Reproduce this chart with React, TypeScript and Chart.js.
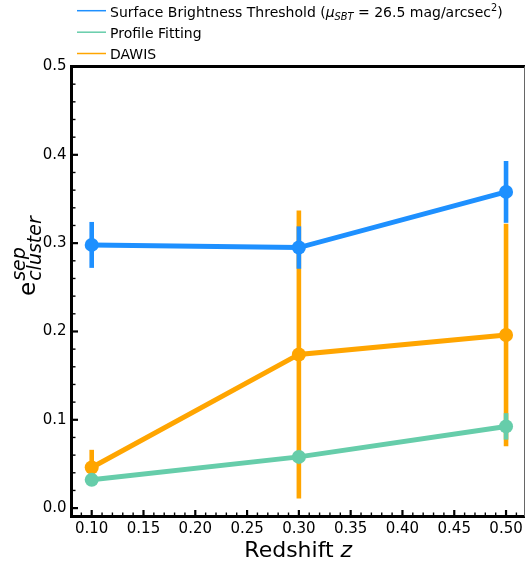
import React, { useEffect, useRef } from "react";
import { Chart, registerables } from "chart.js";

Chart.register(...registerables);

// ---- data ----
const redshift = [0.1, 0.3, 0.5];
const sbtValues = [0.298, 0.295, 0.358];
const sbtErrors = [0.026, 0.024, 0.035];
const profileValues = [0.032, 0.058, 0.0925];
const profileErrors = [0.006, 0.006, 0.015];
const dawisValues = [0.046, 0.174, 0.196];
const dawisErrors = [0.02, 0.163, 0.126];
const xTickValues = [0.1, 0.15, 0.2, 0.25, 0.3, 0.35, 0.4, 0.45, 0.5];
const yTickValues = [0, 0.1, 0.2, 0.3, 0.4, 0.5];
const seriesNames = ["Surface Brightness Threshold", "Profile Fitting", "DAWIS"];
const seriesColors = ["#1E90FF", "#66CDAA", "#FFA500"];

const X_MIN = 0.0805;
const X_MAX = 0.5183;
const Y_MIN = -0.0095;
const Y_MAX = 0.5;

const FONT = '"DejaVu Sans", sans-serif';

type Run = { text: string; font: string; dy?: number };

function drawRuns(ctx: CanvasRenderingContext2D, runs: Run[], x: number, y: number, align: "left" | "center") {
  const widths = runs.map((r) => {
    ctx.font = r.font;
    return ctx.measureText(r.text).width;
  });
  const total = widths.reduce((a, b) => a + b, 0);
  let cx = align === "center" ? x - total / 2 : x;
  ctx.textAlign = "left";
  ctx.textBaseline = "alphabetic";
  runs.forEach((r, i) => {
    ctx.font = r.font;
    ctx.fillText(r.text, cx, y + (r.dy || 0));
    cx += widths[i];
  });
}

const errorSets = [sbtErrors, profileErrors, dawisErrors];
const valueSets = [sbtValues, profileValues, dawisValues];

const overlayPlugin = {
  id: "overlay",
  beforeDatasetDraw(chart: any, args: any) {
    const i = args.index;
    const xs = chart.scales.x;
    const ys = chart.scales.y;
    const ctx = chart.ctx as CanvasRenderingContext2D;
    ctx.save();
    ctx.strokeStyle = seriesColors[i];
    ctx.lineWidth = 4.6;
    ctx.lineCap = "butt";
    valueSets[i].forEach((v, k) => {
      const e = errorSets[i][k];
      const px = xs.getPixelForValue(redshift[k]);
      ctx.beginPath();
      ctx.moveTo(px, ys.getPixelForValue(v - e));
      ctx.lineTo(px, ys.getPixelForValue(v + e));
      ctx.stroke();
    });
    ctx.restore();
  },
  afterDatasetsDraw(chart: any) {
    const ctx = chart.ctx as CanvasRenderingContext2D;
    const { left, right, top, bottom } = chart.chartArea;
    const xs = chart.scales.x;
    const ys = chart.scales.y;
    ctx.save();
    ctx.strokeStyle = "#000";
    for (let m = 8; m <= 51; m++) {
      const v = m / 100;
      const px = xs.getPixelForValue(v);
      if (px < left || px > right) continue;
      const major = m % 5 === 0;
      ctx.lineWidth = major ? 2.2 : 1.4;
      ctx.beginPath();
      ctx.moveTo(px, bottom);
      ctx.lineTo(px, bottom - (major ? 6.5 : 4));
      ctx.stroke();
    }
    for (let m = 0; m <= 25; m++) {
      const v = m / 50;
      const py = ys.getPixelForValue(v);
      const major = m % 5 === 0;
      ctx.lineWidth = major ? 2.2 : 1.4;
      ctx.beginPath();
      ctx.moveTo(left, py);
      ctx.lineTo(left + (major ? 6.5 : 4), py);
      ctx.stroke();
    }
    ctx.lineWidth = 3;
    ctx.beginPath();
    ctx.moveTo(left, top - 1.5);
    ctx.lineTo(left, bottom + 1.5);
    ctx.moveTo(left - 1.5, bottom);
    ctx.lineTo(right + 2, bottom);
    ctx.moveTo(left - 1.5, top);
    ctx.lineTo(right + 2, top);
    ctx.stroke();
    ctx.strokeStyle = "#666";
    ctx.lineWidth = 1;
    ctx.beginPath();
    ctx.moveTo(right - 0.5, top);
    ctx.lineTo(right - 0.5, bottom);
    ctx.stroke();
    ctx.restore();
  },
  afterDraw(chart: any) {
    const ctx = chart.ctx as CanvasRenderingContext2D;
    const { left, right } = chart.chartArea;
    ctx.save();
    ctx.fillStyle = "#000";
    drawRuns(
      ctx,
      [
        { text: "Redshift ", font: `22px ${FONT}` },
        { text: "z", font: `italic 22px ${FONT}` },
      ],
      (left + right) / 2,
      557,
      "center"
    );
    // y title (rotated), text starts near y≈296 and runs upward
    ctx.save();
    ctx.translate(35, 296);
    ctx.rotate(-Math.PI / 2);
    ctx.textAlign = "left";
    ctx.textBaseline = "alphabetic";
    ctx.font = `23px ${FONT}`;
    const eW = ctx.measureText("e").width;
    ctx.fillText("e", 0, 0);
    ctx.font = `italic 19px ${FONT}`;
    ctx.fillText("sep", eW + 1, -10);
    ctx.fillText("cluster", eW + 1, 6);
    ctx.restore();

    const rows = [10.7, 32.2, 53.5];
    rows.forEach((ry, i) => {
      ctx.strokeStyle = seriesColors[i];
      ctx.lineWidth = 1.5;
      ctx.beginPath();
      ctx.moveTo(77, ry);
      ctx.lineTo(106, ry);
      ctx.stroke();
    });
    ctx.fillStyle = "#000";
    drawRuns(
      ctx,
      [
        { text: seriesNames[0] + " (", font: `14px ${FONT}` },
        { text: "μ", font: `italic 14px ${FONT}` },
        { text: "SBT", font: `italic 9.8px ${FONT}`, dy: 3 },
        { text: " = 26.5 mag/arcsec", font: `14px ${FONT}` },
        { text: "2", font: `9.8px ${FONT}`, dy: -6 },
        { text: ")", font: `14px ${FONT}` },
      ],
      110,
      rows[0] + 5.8,
      "left"
    );
    drawRuns(ctx, [{ text: seriesNames[1], font: `14px ${FONT}` }], 110, rows[1] + 5.8, "left");
    drawRuns(ctx, [{ text: seriesNames[2], font: `14px ${FONT}` }], 110, rows[2] + 5.8, "left");
    ctx.restore();
  },
};

export default function App() {
  const ref = useRef<HTMLCanvasElement | null>(null);
  useEffect(() => {
    if (!ref.current) return;
    const mk = (vals: number[], i: number) => ({
      label: seriesNames[i],
      data: redshift.map((x, k) => ({ x, y: vals[k] })),
      borderColor: seriesColors[i],
      backgroundColor: seriesColors[i],
      pointBackgroundColor: seriesColors[i],
      pointBorderWidth: 0,
      pointRadius: 7,
      borderWidth: 5,
      tension: 0,
      fill: false,
      clip: false as any,
    });
    const chart = new Chart(ref.current, {
      type: "line",
      data: {
        datasets: [mk(sbtValues, 0), mk(profileValues, 1), mk(dawisValues, 2)],
      },
      options: {
        animation: false,
        responsive: false,
        events: [],
        layout: { autoPadding: false, padding: { top: 66.5, left: 0, right: 0, bottom: 0 } },
        plugins: { legend: { display: false }, tooltip: { enabled: false } },
        scales: {
          x: {
            type: "linear",
            min: X_MIN,
            max: X_MAX,
            grid: { display: false, drawTicks: false },
            border: { display: false },
            afterBuildTicks: (s: any) => {
              s.ticks = xTickValues.map((v) => ({ value: v }));
            },
            afterFit: (s: any) => {
              s.height = 566 - 516.5;
              s.paddingLeft = 0;
              s.paddingRight = 0;
            },
            ticks: {
              color: "#000",
              font: { family: FONT, size: 15 },
              padding: 4,
              maxRotation: 0,
              autoSkip: false,
              callback: (v: any) => Number(v).toFixed(2),
            },
          },
          y: {
            type: "linear",
            min: Y_MIN,
            max: Y_MAX,
            grid: { display: false, drawTicks: false },
            border: { display: false },
            afterBuildTicks: (s: any) => {
              s.ticks = yTickValues.map((v) => ({ value: v }));
            },
            afterFit: (s: any) => {
              s.width = 71.5;
              s.paddingTop = 0;
              s.paddingBottom = 0;
            },
            ticks: {
              color: "#000",
              font: { family: FONT, size: 15 },
              padding: 5,
              autoSkip: false,
              callback: (v: any) => Number(v).toFixed(1),
            },
          },
        },
      },
      plugins: [overlayPlugin],
    });
    return () => chart.destroy();
  }, []);
  return (
    <div style={{ position: "absolute", left: 0, top: 0, width: 525, height: 566, background: "#fff" }}>
      <canvas ref={ref} width={525} height={566} />
    </div>
  );
}
